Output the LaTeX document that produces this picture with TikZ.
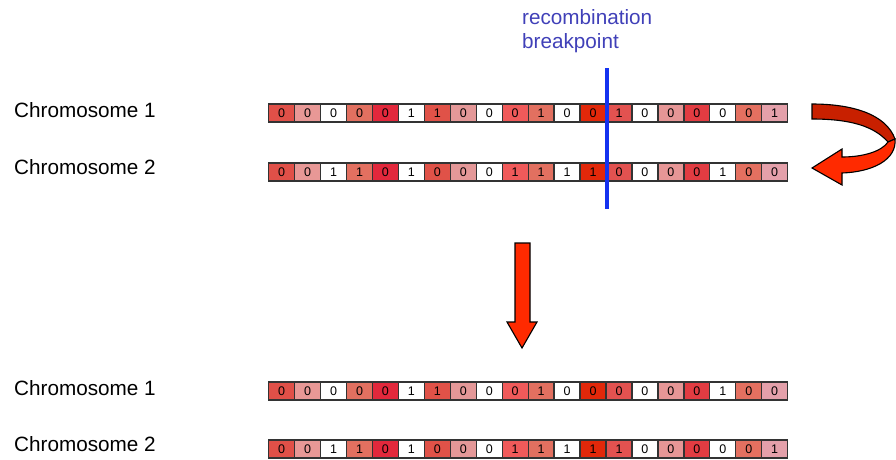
\documentclass[tikz,border=0pt]{standalone}
\usepackage{fontspec}
\setmainfont{Liberation Sans}
% per-locus shading, shared by every chromosome
\definecolor{g1}{HTML}{E05048}
\definecolor{g2}{HTML}{E89896}
\definecolor{g3}{HTML}{FFFFFF}
\definecolor{g4}{HTML}{E27060}
\definecolor{g5}{HTML}{E2283C}
\definecolor{g6}{HTML}{FFFFFF}
\definecolor{g7}{HTML}{E05248}
\definecolor{g8}{HTML}{E49898}
\definecolor{g9}{HTML}{FFFFFF}
\definecolor{g10}{HTML}{F05A5A}
\definecolor{g11}{HTML}{E27060}
\definecolor{g12}{HTML}{FFFFFF}
\definecolor{g13}{HTML}{E2280A}
\definecolor{g14}{HTML}{E25250}
\definecolor{g15}{HTML}{FFFFFF}
\definecolor{g16}{HTML}{E69696}
\definecolor{g17}{HTML}{E23C42}
\definecolor{g18}{HTML}{FFFFFF}
\definecolor{g19}{HTML}{E47060}
\definecolor{g20}{HTML}{E4A0AA}
\definecolor{arrowred}{HTML}{FF2A00}
\definecolor{arrowdark}{HTML}{C82000}
\definecolor{bpblue}{HTML}{1432F0}
\definecolor{bptext}{HTML}{4040B8}
\begin{document}
\begin{tikzpicture}[x=1pt,y=-1pt,
  gene/.style={draw=black!80, line width=1.3pt, minimum width=25.95pt,
    minimum height=18pt, inner sep=0pt, anchor=west,
    font=\fontsize{12.5}{12.5}\selectfont},
  chrlabel/.style={anchor=west, inner sep=0pt, font=\fontsize{20.7}{24}\selectfont},
  bigarrow/.style={draw=black, line width=1.1pt, line join=miter},
  bpline/.style={draw=bpblue, line width=4pt}]
\useasboundingbox (0,0) rectangle (896,459);

% chromosome labels
\node[chrlabel] (l1) at (14,110) {Chromosome 1};
\node[chrlabel] (l2) at (14,167) {Chromosome 2};
\node[chrlabel] (l3) at (14,388) {Chromosome 1};
\node[chrlabel] (l4) at (14,444) {Chromosome 2};

% gene strings: parents (p1, p2) and offspring (o1, o2)
\foreach \row/\yy/\bits in {
  p1/113/{0,0,0,0,0,1,1,0,0,0,1,0,0,1,0,0,0,0,0,1},
  p2/172/{0,0,1,1,0,1,0,0,0,1,1,1,1,0,0,0,0,1,0,0},
  o1/391/{0,0,0,0,0,1,1,0,0,0,1,0,0,0,0,0,0,1,0,0},
  o2/449/{0,0,1,1,0,1,0,0,0,1,1,1,1,1,0,0,0,0,0,1}}{
  \foreach \b [count=\i] in \bits {
    \node[gene, fill=g\i] (\row-\i) at ({268+(\i-1)*25.95},\yy) {\b};
  }
}

% recombination breakpoint
\coordinate (bpTop) at (607,68);
\coordinate (bpBot) at (607,209);
\draw[bpline] (bpTop) -- (bpBot);
\node[anchor=west, align=left, inner sep=0pt, text=bptext,
  font=\fontsize{20.7}{24}\selectfont] (bplabel) at (522,31)
  {recombination\\breakpoint};

% swap arrow: back ribbon, then front ribbon with head
\filldraw[bigarrow, fill=arrowdark]
  (812,104) .. controls (852,104) and (886,114) .. (895,139)
  -- (888,142) .. controls (874,126) and (850,119) .. (812,119) -- cycle;
\filldraw[bigarrow, fill=arrowred]
  (895,139) .. controls (897,160) and (872,172) .. (842,173)
  -- (842,185) -- (812,168) -- (842,149) -- (842,157)
  .. controls (864,157) and (882,151) .. (888,142) -- cycle;

% downward arrow to the offspring
\filldraw[bigarrow, fill=arrowred]
  (515,243) -- (530,243) -- (530,322) -- (537,322) -- (522,348)
  -- (507,322) -- (515,322) -- cycle;
\end{tikzpicture}
\end{document}
